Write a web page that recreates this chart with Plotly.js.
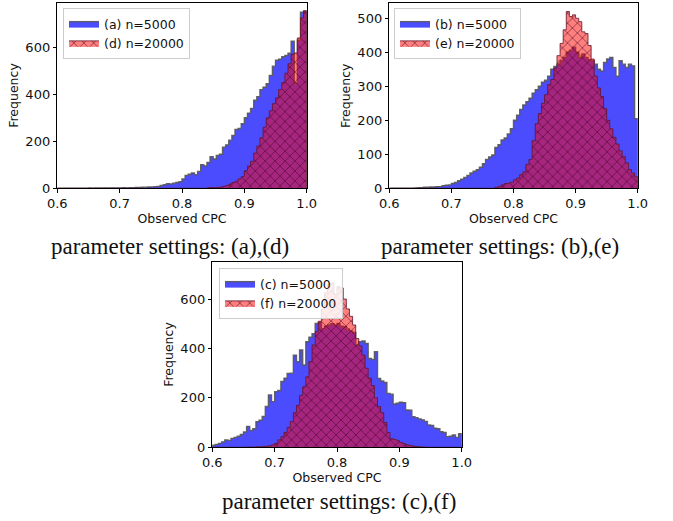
<!DOCTYPE html>
<html>
<head>
<meta charset="utf-8">
<script src="https://cdn.plot.ly/plotly-3.0.1.min.js"></script>
<style>html,body{margin:0;padding:0;background:#fff;}#chart{width:673px;height:521px;}</style>
</head>
<body>
<div id="chart"></div>
<script>
// Histogram bins: 80 bins of width 0.005 from 0.600 to 1.000
const binStart = 0.6;
const binWidth = 0.005;
const xTickVals = [0.6, 0.7, 0.8, 0.9, 1.0];
const xTickText = ["0.6", "0.7", "0.8", "0.9", "1.0"];
const xLabel = "Observed CPC";
const yLabel = "Frequency";

// Panel 1: (a) n=5000 and (d) n=20000
const seriesA = [
  0,0,0,0,0,0,0,0,0,0,
  1,0,1,1,1,2,1,2,2,2,
  2,3,2,3,3,4,4,5,5,6,
  6,7,8,12,15,20,18,22,25,28,
  40,55,60,65,58,72,100,95,110,135,
  125,140,145,175,185,205,225,250,255,275,
  300,320,340,375,390,420,430,445,480,520,
  545,550,560,565,575,626,448,630,750,755
];
const seriesD = [
  0,0,0,0,0,0,0,0,0,0,
  0,0,0,0,0,0,0,0,0,0,
  0,0,0,0,0,0,0,0,0,0,
  0,0,0,0,0,0,0,0,0,0,
  0,0,0,0,0,0,0,0,2,3,
  3,4,5,8,12,18,25,30,40,50,
  75,95,115,150,180,215,260,300,330,360,
  385,420,450,490,530,570,576,640,725,755
];
// Panel 2: (b) n=5000 and (e) n=20000
const seriesB = [
  0,0,0,0,0,0,0,0,1,2,
  2,3,3,4,4,5,5,8,9,10,
  14,17,22,27,32,38,45,50,55,62,
  72,85,92,98,120,128,142,148,160,175,
  200,215,232,245,255,265,280,290,300,312,
  318,330,350,358,365,375,385,400,405,415,
  400,385,395,385,378,375,365,350,345,370,
  380,385,355,330,375,365,355,365,360,205
];
const seriesE = [
  0,0,0,0,0,0,0,0,0,0,
  0,0,0,0,0,0,0,0,0,0,
  0,0,0,0,0,0,0,0,0,0,
  0,0,0,0,3,5,10,14,15,18,
  25,30,40,48,70,85,140,190,220,250,
  275,305,320,353,390,426,466,520,505,510,
  500,490,460,455,420,380,330,295,270,235,
  200,175,150,130,110,93,75,55,45,34
];
// Panel 3: (c) n=5000 and (f) n=20000
const seriesC = [
  8,12,16,22,30,28,36,40,45,52,
  62,84,68,75,104,110,125,165,212,185,
  225,230,266,280,299,300,373,346,394,333,
  427,445,460,501,505,480,490,495,500,495,
  501,490,488,478,470,465,414,427,430,420,
  360,355,387,279,268,262,218,215,175,178,
  182,180,151,150,124,120,115,111,105,90,
  88,77,75,63,60,43,45,50,40,55
];
const seriesF = [
  0,0,0,0,0,0,0,0,0,0,
  1,1,1,1,2,2,3,4,6,10,
  16,30,43,60,80,104,140,170,210,245,
  285,346,414,468,510,560,625,660,665,620,
  650,645,600,560,530,495,440,410,373,320,
  280,250,200,165,140,100,60,35,32,28,
  20,15,10,7,5,3,2,1,1,0,
  0,0,0,0,0,0,0,0,0,0
];

const legendNames = [
  ["(a) n=5000", "(d) n=20000"],
  ["(b) n=5000", "(e) n=20000"],
  ["(c) n=5000", "(f) n=20000"]
];
const captions = ["parameter settings: (a),(d)", "parameter settings: (b),(e)", "parameter settings: (c),(f)"];
const yTicks = [[0,200,400,600],[0,100,200,300,400,500],[0,200,400,600]];
const yMax = [790, 544, 751];

function stepXY(counts) {
  const x = [binStart], y = [0];
  for (let i = 0; i < counts.length; i++) {
    x.push(binStart + i * binWidth);
    y.push(counts[i]);
  }
  const end = binStart + counts.length * binWidth;
  x.push(end); y.push(counts[counts.length - 1]);
  x.push(end); y.push(0);
  return {x, y};
}

const pairs = [[seriesA, seriesD], [seriesB, seriesE], [seriesC, seriesF]];
const axSuffix = ["", "2", "3"];
const traces = [];
pairs.forEach((p, k) => {
  const s1 = stepXY(p[0]);
  const s2 = stepXY(p[1]);
  const leg = "legend" + axSuffix[k];
  traces.push({
    type: "scatter", mode: "lines", x: s1.x, y: s1.y,
    line: {shape: "hv", color: "rgba(85,85,85,0.9)", width: 1.4},
    fill: "tozeroy", fillcolor: "rgba(0,0,255,0.7)",
    name: legendNames[k][0], xaxis: "x" + axSuffix[k], yaxis: "y" + axSuffix[k],
    legend: leg, hoverinfo: "skip"
  });
  traces.push({
    type: "scatter", mode: "lines", x: s2.x, y: s2.y,
    line: {shape: "hv", color: "rgba(100,20,40,0.8)", width: 1},
    fill: "tozeroy", fillcolor: "rgba(255,0,0,0.5)",
    fillpattern: {shape: "x", size: 7, solidity: 0.22, fgcolor: "rgba(55,0,25,0.6)", bgcolor: "rgba(255,0,0,0.5)", fillmode: "replace"},
    name: legendNames[k][1], xaxis: "x" + axSuffix[k], yaxis: "y" + axSuffix[k],
    legend: leg, hoverinfo: "skip"
  });
});

const W = 673, H = 521;
const tickFont = {family: "DejaVu Sans", size: 13, color: "#111"};
const titleFont = {family: "DejaVu Sans", size: 12.5, color: "#111"};
function xAxis(domain, anchor) {
  return {domain, anchor, range: [0.6, 1.0], tickvals: xTickVals, ticktext: xTickText,
    ticks: "outside", ticklen: 3.5, tickwidth: 1, tickcolor: "#000",
    showline: true, mirror: true, linecolor: "#000", linewidth: 1,
    showgrid: false, zeroline: false, tickfont: tickFont,
    title: {text: xLabel, font: titleFont, standoff: 2}, automargin: false, fixedrange: true};
}
function yAxis(domain, anchor, k) {
  return {domain, anchor, range: [0, yMax[k]], tickvals: yTicks[k],
    ticks: "outside", ticklen: 3.5, tickwidth: 1, tickcolor: "#000",
    showline: true, mirror: true, linecolor: "#000", linewidth: 1,
    showgrid: false, zeroline: false, tickfont: tickFont,
    title: {text: yLabel, font: titleFont, standoff: 3}, automargin: false, fixedrange: true};
}
function legendAt(xpx, ypx) {
  return {x: xpx / W, y: 1 - ypx / H, xanchor: "left", yanchor: "top",
    bgcolor: "rgba(255,255,255,0.85)", bordercolor: "#cccccc", borderwidth: 1,
    font: {family: "DejaVu Sans", size: 12.5, color: "#111"}, tracegroupgap: 0,
    itemwidth: 30, traceorder: "normal"};
}

const layout = {
  width: W, height: H, margin: {l: 0, r: 0, t: 0, b: 0},
  paper_bgcolor: "#fff", plot_bgcolor: "#fff", showlegend: true,
  xaxis: xAxis([57.3 / W, 306.7 / W], "y"),
  yaxis: yAxis([1 - 188.3 / H, 1 - 2.7 / H], "x", 0),
  xaxis2: xAxis([389.3 / W, 637.7 / W], "y2"),
  yaxis2: yAxis([1 - 188.3 / H, 1 - 3.3 / H], "x2", 1),
  xaxis3: xAxis([212.3 / W, 461.7 / W], "y3"),
  yaxis3: yAxis([1 - 447.3 / H, 1 - 261.7 / H], "x3", 2),
  legend: legendAt(63, 8),
  legend2: legendAt(394, 8),
  legend3: legendAt(219, 268),
  annotations: [
    {text: captions[0], x: 170 / W, y: 1 - 246 / H},
    {text: captions[1], x: 500 / W, y: 1 - 246 / H},
    {text: captions[2], x: 339 / W, y: 1 - 501 / H}
  ].map(a => Object.assign(a, {xref: "paper", yref: "paper", xanchor: "center", yanchor: "middle",
    showarrow: false, font: {family: "Liberation Serif", size: 23, color: "#111"}}))
};

Plotly.newPlot("chart", traces, layout, {displayModeBar: false, staticPlot: true});
</script>
</body>
</html>
